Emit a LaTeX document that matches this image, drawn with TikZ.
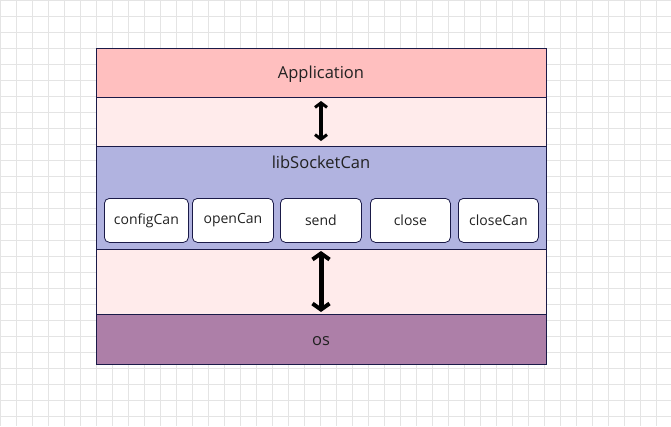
\documentclass[tikz,border=0pt]{standalone}
\usepackage{fontspec}
\setmainfont{Open Sans}
\usetikzlibrary{arrows.meta}
\definecolor{appc}{HTML}{FFBFBF}
\definecolor{gapc}{HTML}{FFEBEB}
\definecolor{libc}{HTML}{B1B3E0}
\definecolor{osc}{HTML}{AD7FA8}
\definecolor{edgec}{HTML}{1A1A48}
\definecolor{txtc}{HTML}{222222}
\definecolor{gridc}{HTML}{E4E4E4}
\tikzset{
  band/.style={draw=edgec, line width=1pt, minimum width=450pt, inner sep=0pt, outer sep=0pt, text=txtc, font=\fontsize{16.5}{18}\selectfont},
  fn/.style={draw=edgec, line width=0.8pt, fill=white, rounded corners=5pt, minimum height=44pt, inner sep=0pt, text=txtc, font=\fontsize{14}{16}\selectfont},
  dbl/.style={draw=black, line width=5pt, {Straight Barb[length=6pt,width=17pt,line width=4pt]}-{Straight Barb[length=6pt,width=17pt,line width=4pt]}},
  dbls/.style={draw=black, line width=3.5pt, {Straight Barb[length=4.5pt,width=12pt,line width=3pt]}-{Straight Barb[length=4.5pt,width=12pt,line width=3pt]}}
}
\begin{document}
\begin{tikzpicture}[x=1pt,y=-1pt]
\useasboundingbox (0,0) rectangle (671,426);
\fill[white] (0,0) rectangle (671,426);
\foreach \i in {0,16,...,671} \draw[gridc, line width=0.6pt] (\i,0) -- (\i,426);
\foreach \j in {0,16,...,426} \draw[gridc, line width=0.6pt] (0,\j) -- (671,\j);
\node[band, fill=appc, minimum height=49pt, anchor=north west] (app) at (96,48) {};
\node[text=txtc, font=\fontsize{16.5}{18}\selectfont] (appt) at (321,74) {Application};
\node[band, fill=gapc, minimum height=49pt, anchor=north west] (gap1) at (96,97) {};
\node[band, fill=libc, minimum height=103pt, anchor=north west] (lib) at (96,146) {};
\node[text=txtc, font=\fontsize{16.5}{18}\selectfont] (libt) at (321,162) {libSocketCan};
\node[band, fill=gapc, minimum height=65pt, anchor=north west] (gap2) at (96,249) {};
\node[band, fill=osc, minimum height=50pt, anchor=north west] (os) at (96,314) {};
\node[text=txtc, font=\fontsize{16.5}{18}\selectfont] (ost) at (321,341) {os};
\node[fn, minimum width=84pt, anchor=north west] (cfg) at (104,198) {configCan};
\node[fn, minimum width=81pt, anchor=north west] (open) at (192,198) {openCan};
\node[fn, minimum width=81pt, anchor=north west] (send) at (280,198) {send};
\node[fn, minimum width=80pt, anchor=north west] (close) at (370,198) {close};
\node[fn, minimum width=80pt, anchor=north west] (closec) at (458,198) {closeCan};
\coordinate (a1) at (321,101);
\coordinate (a2) at (321,141);
\coordinate (b1) at (321,251);
\coordinate (b2) at (321,312);
\draw[dbls] (a1) -- (a2);
\draw[dbl] (b1) -- (b2);
\end{tikzpicture}
\end{document}
